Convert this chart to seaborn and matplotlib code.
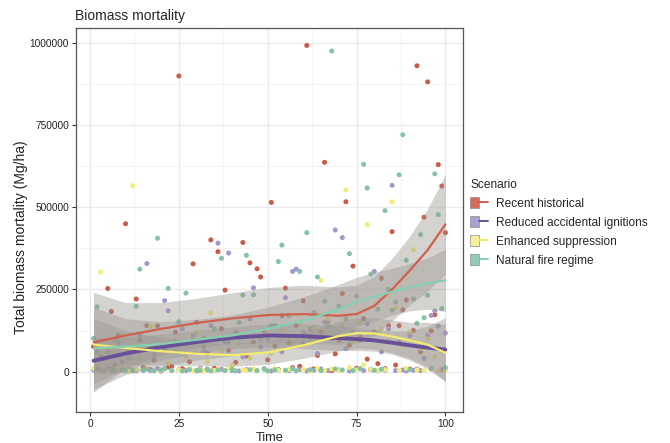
import numpy as np
import pandas as pd
import matplotlib
matplotlib.use("Agg")
import matplotlib.pyplot as plt
import seaborn as sns
from matplotlib.patches import Patch
from matplotlib.lines import Line2D
from matplotlib.legend_handler import HandlerTuple
from matplotlib.ticker import FixedLocator, FuncFormatter

# ---------------- data (values in thousand Mg/ha) ----------------
scenarios = ["Recent historical", "Reduced accidental ignitions",
             "Enhanced suppression", "Natural fire regime"]
time = list(range(1, 101))

recent_historical = [
    76, 8, 45, 3, 253, 183, 20, 110, 5, 450,
    60, 4, 221, 95, 12, 140, 6, 35, 139, 2,
    70, 14, 16, 120, 900, 9, 85, 30, 328, 150,
    7, 100, 55, 401, 10, 365, 130, 248, 65, 4,
    28, 110, 393, 47, 331, 90, 313, 288, 125, 36,
    515, 78, 6, 170, 254, 87, 12, 140, 16, 215,
    993, 105, 8, 49, 120, 637, 155, 3, 54, 95,
    238, 517, 80, 321, 10, 105, 161, 38, 6, 120,
    24, 284, 9, 140, 426, 20, 140, 188, 218, 8,
    125, 931, 60, 470, 882, 124, 173, 630, 565, 423]

reduced_ignitions = [
    5, 60, 2, 40, 8, 1, 95, 4, 30, 3,
    7, 70, 2, 110, 6, 329, 3, 50, 9, 2,
    216, 185, 4, 80, 6, 130, 3, 8, 95, 2,
    10, 60, 5, 140, 3, 391, 7, 90, 361, 4,
    120, 2, 45, 6, 160, 255, 3, 75, 9, 100,
    2, 140, 5, 60, 225, 3, 305, 312, 6, 85,
    2, 130, 4, 55, 8, 150, 3, 100, 431, 5,
    408, 70, 2, 120, 6, 95, 3, 145, 7, 305,
    2, 60, 4, 130, 567, 3, 90, 5, 2, 110,
    4, 8, 3, 40, 110, 171, 185, 138, 6, 117]

enhanced_suppression = [
    10, 90, 303, 4, 2, 60, 8, 3, 110, 5,
    2, 566, 6, 40, 3, 9, 137, 2, 70, 4,
    7, 25, 3, 95, 5, 2, 45, 8, 3, 120,
    6, 2, 30, 178, 4, 7, 60, 3, 9, 20,
    2, 85, 5, 3, 40, 8, 2, 100, 6, 3,
    55, 9, 4, 125, 2, 7, 80, 3, 150, 6,
    110, 2, 135, 9, 278, 4, 160, 8, 100, 3,
    140, 553, 12, 90, 5, 150, 20, 447, 7, 115,
    3, 130, 6, 95, 517, 194, 4, 80, 10, 120,
    371, 5, 70, 3, 100, 8, 45, 2, 60, 4]

natural_fire = [
    101, 197, 5, 2, 60, 8, 3, 90, 6, 2,
    40, 4, 199, 312, 3, 7, 80, 2, 406, 5,
    9, 253, 3, 60, 152, 2, 239, 6, 110, 4,
    3, 75, 8, 2, 130, 5, 345, 3, 90, 7,
    2, 150, 233, 354, 6, 234, 3, 100, 8, 2,
    140, 5, 335, 385, 4, 170, 9, 2, 305, 120,
    423, 6, 180, 288, 3, 214, 140, 976, 8, 200,
    5, 160, 359, 3, 230, 9, 631, 559, 297, 4,
    190, 7, 490, 250, 187, 212, 599, 721, 339, 6,
    221, 147, 417, 164, 232, 9, 602, 478, 192, 12]

# smoothed trend (loess fit) and its half CI width
smooth_time = [1, 10, 20, 30, 40, 50, 60, 70, 75, 80, 85, 90, 95, 100]
fit_recent = [89, 110, 130, 148, 162, 172, 175, 170, 175, 200, 250, 308, 370, 448]
fit_reduced = [33, 55, 75, 90, 103, 110, 108, 102, 99, 95, 88, 80, 73, 67]
fit_enhanced = [82, 72, 62, 54, 50, 58, 80, 108, 117, 116, 107, 95, 82, 57]
fit_natural = [71, 76, 84, 97, 110, 130, 155, 190, 212, 228, 243, 257, 268, 278]
ci_recent = [152, 100, 80, 75, 78, 84, 88, 88, 88, 90, 95, 105, 125, 152]
ci_reduced = [70, 48, 40, 35, 33, 35, 38, 38, 35, 33, 35, 45, 65, 97]
ci_enhanced = [80, 52, 42, 36, 34, 36, 40, 45, 47, 48, 50, 55, 68, 87]
ci_natural = [125, 85, 68, 62, 62, 66, 72, 75, 75, 74, 72, 72, 78, 95]

y_ticks = [0, 250000, 500000, 750000, 1000000]
x_ticks = [0, 25, 50, 75, 100]

# ---------------- tables ----------------
series = [recent_historical, reduced_ignitions, enhanced_suppression, natural_fire]
pts = pd.concat([pd.DataFrame({"Time": time, "Mortality": np.array(v) * 1000.0,
                               "Scenario": s}) for s, v in zip(scenarios, series)],
                ignore_index=True)
fits = [fit_recent, fit_reduced, fit_enhanced, fit_natural]
cis = [ci_recent, ci_reduced, ci_enhanced, ci_natural]
sm = pd.concat([pd.DataFrame({"Time": smooth_time,
                              "Fit": np.array(f) * 1000.0,
                              "Lo": (np.array(f) - np.array(c)) * 1000.0,
                              "Hi": (np.array(f) + np.array(c)) * 1000.0,
                              "Scenario": s})
                for s, f, c in zip(scenarios, fits, cis)], ignore_index=True)

point_colors = {"Recent historical": "#CC5A48",
                "Reduced accidental ignitions": "#A398CC",
                "Enhanced suppression": "#F2EC78",
                "Natural fire regime": "#84C4A6"}
line_colors = {"Recent historical": "#D0604E",
               "Reduced accidental ignitions": "#6A5098",
               "Enhanced suppression": "#F4EC6E",
               "Natural fire regime": "#86D0B0"}
line_widths = {"Recent historical": 1.6, "Reduced accidental ignitions": 2.8,
               "Enhanced suppression": 1.6, "Natural fire regime": 1.6}
key_colors = {"Recent historical": "#D9695C",
              "Reduced accidental ignitions": "#A9A2D2",
              "Enhanced suppression": "#F6F29A",
              "Natural fire regime": "#93CBB7"}

# ---------------- plot ----------------
sns.set_theme(style="white")
plt.rcParams['font.family'] = ['Liberation Sans', 'DejaVu Sans']

fig = plt.figure(figsize=(6.7, 4.43), dpi=100)
ax = fig.add_axes([0.1134, 0.07, 0.5776, 0.8668])

sns.scatterplot(data=pts, x="Time", y="Mortality", hue="Scenario",
                palette=point_colors, hue_order=scenarios, s=13, linewidth=0,
                ax=ax, legend=False, zorder=2)

for s in scenarios:
    d = sm[sm["Scenario"] == s]
    ax.fill_between(d["Time"], d["Lo"], d["Hi"], color="#9b9691", alpha=0.42,
                    linewidth=0, zorder=3)
for s in scenarios:
    d = sm[sm["Scenario"] == s]
    sns.lineplot(x=d["Time"], y=d["Fit"], color=line_colors[s],
                 linewidth=line_widths[s], ax=ax, zorder=4)

ax.set_xlim(-3.95, 104.95)
ax.set_ylim(-123000, 1046000)
ax.xaxis.set_major_locator(FixedLocator(x_ticks))
ax.yaxis.set_major_locator(FixedLocator(y_ticks))
ax.xaxis.set_minor_locator(FixedLocator([12.5, 37.5, 62.5, 87.5]))
ax.yaxis.set_minor_locator(FixedLocator([125000, 375000, 625000, 875000]))
ax.yaxis.set_major_formatter(FuncFormatter(lambda v, p: f"{int(v)}"))
ax.grid(True, which="major", color="#EBEBEB", linewidth=1.0, zorder=0)
ax.grid(True, which="minor", color="#F2F2F2", linewidth=0.6, zorder=0)
ax.set_axisbelow(True)
for sp in ax.spines.values():
    sp.set_color("#555555")
    sp.set_linewidth(0.9)
ax.tick_params(axis="both", which="major", length=3, width=0.8, color="#333333",
               labelsize=7.3, labelcolor="#222222", pad=2, bottom=True, left=True)
ax.tick_params(axis="both", which="minor", length=0)

ax.set_xlabel("Time", fontsize=9.2, labelpad=2)
ax.set_ylabel("Total biomass mortality (Mg/ha)", fontsize=10.0, color="#222222")
ax.yaxis.set_label_coords(-0.125, 0.455)
ax.set_title("Biomass mortality", fontsize=10, loc="left", pad=6, x=-0.002)

handles = []
for s in scenarios:
    handles.append((Patch(facecolor=key_colors[s], edgecolor="#8a8a8a", linewidth=0.5),
                    Line2D([], [], color=line_colors[s], linewidth=1.4)))
leg = fig.legend(handles, scenarios, title="Scenario",
                 handler_map={tuple: HandlerTuple(ndivide=None, pad=0)},
                 loc="upper left", bbox_to_anchor=(0.695, 0.607), frameon=False,
                 fontsize=8.6, title_fontsize=8.6, handlelength=1.5, handleheight=1.0,
                 handletextpad=0.6, labelspacing=0.55, borderaxespad=0)
leg._legend_box.align = "left"

fig.savefig("out.png", dpi=100)
